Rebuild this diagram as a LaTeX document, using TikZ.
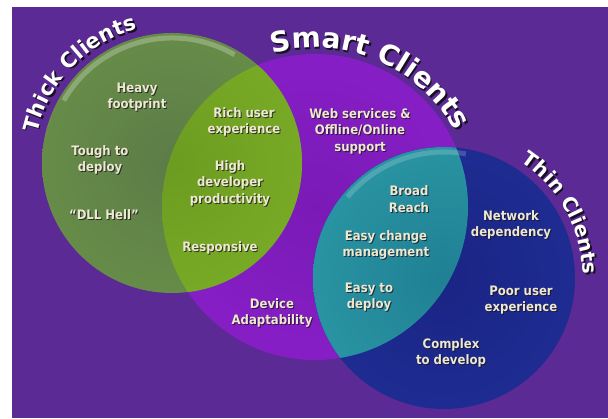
\documentclass[tikz,border=0pt]{standalone}
\usepackage{fontspec}
\usetikzlibrary{decorations.text}
\newfontfamily\bodyfont{DejaVu Sans Condensed}
\newfontfamily\headfont{DejaVu Sans}
\definecolor{bgpurple}{RGB}{92,42,148}
\definecolor{txtcream}{RGB}{236,233,206}
\definecolor{txtshadow}{RGB}{25,15,35}
% purple circle
\definecolor{pc0}{RGB}{122,26,182}
\definecolor{pc1}{RGB}{140,32,205}
\definecolor{pc2}{RGB}{168,62,232}
\definecolor{pc3}{RGB}{118,26,172}
% green circle
\definecolor{gc0}{RGB}{92,124,72}
\definecolor{gc1}{RGB}{108,148,72}
\definecolor{gc2}{RGB}{132,174,82}
\definecolor{gc3}{RGB}{80,116,46}
% green lens
\definecolor{gl0}{RGB}{108,156,32}
\definecolor{gl1}{RGB}{126,176,40}
\definecolor{gl2}{RGB}{150,196,52}
\definecolor{gl3}{RGB}{96,138,30}
% blue circle
\definecolor{bc0}{RGB}{26,36,132}
\definecolor{bc1}{RGB}{32,48,152}
\definecolor{bc2}{RGB}{48,78,188}
\definecolor{bc3}{RGB}{24,32,118}
% teal lens
\definecolor{tl0}{RGB}{32,128,148}
\definecolor{tl1}{RGB}{44,156,168}
\definecolor{tl2}{RGB}{84,198,200}
\definecolor{tl3}{RGB}{30,116,136}
\pgfdeclareradialshading{purpleball}{\pgfpoint{0bp}{0bp}}{color(0bp)=(pc0); color(36bp)=(pc1); color(46bp)=(pc2); color(50bp)=(pc3)}
\pgfdeclareradialshading{greenball}{\pgfpoint{0bp}{0bp}}{color(0bp)=(gc0); color(38bp)=(gc1); color(47bp)=(gc2); color(50bp)=(gc3)}
\pgfdeclareradialshading{greenlens}{\pgfpoint{0bp}{0bp}}{color(0bp)=(gl0); color(38bp)=(gl1); color(47bp)=(gl2); color(50bp)=(gl3)}
\pgfdeclareradialshading{blueball}{\pgfpoint{0bp}{0bp}}{color(0bp)=(bc0); color(38bp)=(bc1); color(47bp)=(bc2); color(50bp)=(bc3)}
\pgfdeclareradialshading{teallens}{\pgfpoint{0bp}{0bp}}{color(0bp)=(tl0); color(36bp)=(tl1); color(46bp)=(tl2); color(50bp)=(tl3)}
\tikzset{
  lbl/.style={text=txtcream, align=center, inner sep=0pt,
    font=\bodyfont\bfseries\fontsize{13}{16.5}\selectfont},
  lblshadow/.style={lbl, text=txtshadow, opacity=0.75},
}
\newcommand\lbl[3]{%
  \node[lblshadow, xshift=1pt, yshift=-1pt] (#1s) at (#2) {#3};
  \node[lbl] (#1) at (#2) {#3};}
\begin{document}
\begin{tikzpicture}[x=1pt,y=1pt]
\useasboundingbox (0,0) rectangle (608,419);
\fill[white] (0,0) rectangle (608,419);
\fill[bgpurple] (12,1) rectangle (608,412);
% centres
\coordinate (G) at (172,256);
\coordinate (P) at (315,212);
\coordinate (B) at (444,141);
% purple circle
\shade[shading=purpleball] (P) circle[radius=153];
% green circle
\shade[shading=greenball] (G) circle[radius=130];
% blue circle
\shade[shading=blueball] (B) circle[radius=131];
% lenses
\begin{scope}
  \clip (P) circle[radius=153];
  \shade[shading=greenlens] (G) circle[radius=130];
  \shade[shading=teallens] (B) circle[radius=131];
\end{scope}
% highlights
\draw[white, opacity=0.25, line width=5pt] (G) ++(150:125) arc[start angle=150, end angle=60, radius=125];
\draw[white, opacity=0.18, line width=5pt] (B) ++(140:126) arc[start angle=140, end angle=80, radius=126];
% headings (shadow then white)
\foreach \dx/\dy/\col in {1.8/-1.8/txtshadow, 0/0/white}{
  \path[decorate, decoration={text along path, text align=center, text color=\col,
     text={|\headfont\bfseries\fontsize{21}{21}\selectfont|Thick Clients}}]
     ([xshift=\dx pt,yshift=\dy pt]G) ++(175:138) arc[start angle=175, end angle=97, radius=138];
  \path[decorate, decoration={text along path, text align=center, text color=\col,
     text={|\headfont\bfseries\fontsize{28}{28}\selectfont|Smart Clients}}]
     ([xshift=\dx pt,yshift=\dy pt]P) ++(114:159) arc[start angle=114, end angle=20, radius=159];
  \path[decorate, decoration={text along path, text align=center, text color=\col,
     text={|\headfont\bfseries\fontsize{20}{20}\selectfont|Thin Clients}}]
     ([xshift=\dx pt,yshift=\dy pt]B) ++(64:139) arc[start angle=64, end angle=-6, radius=139];
}
% labels
\lbl{heavy}{137,322}{Heavy\\footprint}
\lbl{rich}{244,297}{Rich user\\experience}
\lbl{tough}{100,259}{Tough to\\deploy}
\lbl{high}{230,236}{High\\developer\\productivity}
\lbl{dll}{104,204}{“DLL Hell”}
\lbl{resp}{220,171}{Responsive}
\lbl{device}{272,106}{Device\\Adaptability}
\lbl{web}{360,288}{Web services \&\\Offline/Online\\support}
\lbl{broad}{409,220}{Broad\\Reach}
\lbl{easych}{386,174}{Easy change\\management}
\lbl{easydep}{369,122}{Easy to\\deploy}
\lbl{network}{511,194}{Network\\dependency}
\lbl{poor}{521,119}{Poor user\\experience}
\lbl{complex}{451,66}{Complex\\to develop}
\end{tikzpicture}
\end{document}
